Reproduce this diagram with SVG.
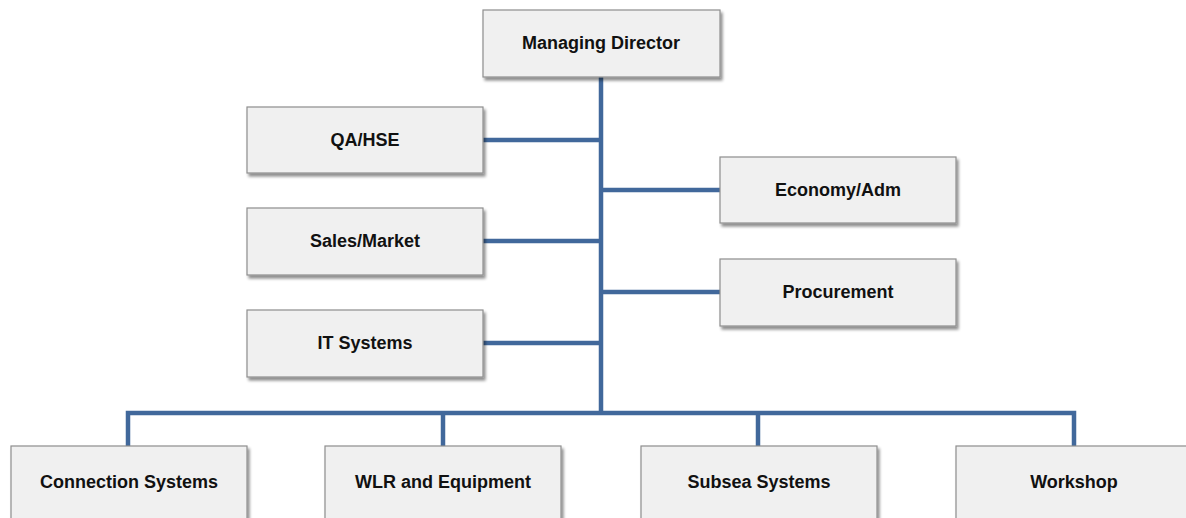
<svg xmlns="http://www.w3.org/2000/svg" width="1186" height="518" viewBox="0 0 1186 518">
<defs>
<filter id="sh" x="-10%" y="-10%" width="120%" height="130%">
<feGaussianBlur in="SourceAlpha" stdDeviation="1.5"/>
<feOffset dx="1.5" dy="2.5" result="b"/>
<feComponentTransfer><feFuncA type="linear" slope="0.45"/></feComponentTransfer>
<feMerge><feMergeNode/><feMergeNode in="SourceGraphic"/></feMerge>
</filter>
<style>
.box{fill:#f0f0f0;stroke:#8e8e8e;stroke-width:1.2;filter:url(#sh)}
.lbl{font-family:"Liberation Sans",Arial,sans-serif;font-weight:bold;font-size:18px;fill:#111;text-anchor:middle;dominant-baseline:central}
.ln{stroke:#41689b;stroke-width:4.5;fill:none}
</style>
</defs>
<rect width="1186" height="518" fill="#fff"/>
<g id="connectors">
<line class="ln" x1="601" y1="77" x2="601" y2="415"/>
<line class="ln" x1="483" y1="140" x2="601" y2="140"/>
<line class="ln" x1="483" y1="241" x2="601" y2="241"/>
<line class="ln" x1="483" y1="343" x2="601" y2="343"/>
<line class="ln" x1="601" y1="190" x2="720" y2="190"/>
<line class="ln" x1="601" y1="292" x2="720" y2="292"/>
<polyline class="ln" points="128,446 128,413 1074,413 1074,446"/>
<line class="ln" x1="443" y1="413" x2="443" y2="446"/>
<line class="ln" x1="758" y1="413" x2="758" y2="446"/>
</g>
<g id="managing-director"><rect class="box" x="483" y="10" width="237" height="67"/><text class="lbl" x="601" y="43">Managing Director</text></g>
<g id="qa-hse"><rect class="box" x="247" y="107" width="236" height="66"/><text class="lbl" x="365" y="140">QA/HSE</text></g>
<g id="sales-market"><rect class="box" x="247" y="208" width="236" height="67"/><text class="lbl" x="365" y="241">Sales/Market</text></g>
<g id="it-systems"><rect class="box" x="247" y="310" width="236" height="67"/><text class="lbl" x="365" y="343">IT Systems</text></g>
<g id="economy-adm"><rect class="box" x="720" y="157" width="236" height="66"/><text class="lbl" x="838" y="190">Economy/Adm</text></g>
<g id="procurement"><rect class="box" x="720" y="259" width="236" height="67"/><text class="lbl" x="838" y="292">Procurement</text></g>
<g id="connection-systems"><rect class="box" x="11" y="446" width="236" height="80"/><text class="lbl" x="129" y="482">Connection Systems</text></g>
<g id="wlr-equipment"><rect class="box" x="325" y="446" width="236" height="80"/><text class="lbl" x="443" y="482">WLR and Equipment</text></g>
<g id="subsea-systems"><rect class="box" x="641" y="446" width="236" height="80"/><text class="lbl" x="759" y="482">Subsea Systems</text></g>
<g id="workshop"><rect class="box" x="956" y="446" width="236" height="80"/><text class="lbl" x="1074" y="482">Workshop</text></g>
</svg>
